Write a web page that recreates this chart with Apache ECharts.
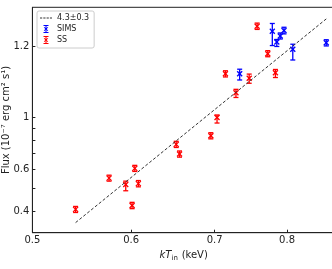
<!DOCTYPE html>
<html><head><meta charset="utf-8">
<script src="https://cdn.jsdelivr.net/npm/echarts@6/dist/echarts.min.js"></script>
<style>html,body{margin:0;padding:0;background:#fff}#c{width:332px;height:269px}</style>
</head><body><div id="c"></div>
<script>
// SS points: kT_in (keV), flux (1e-7), error low / high
const ssT  = [0.5415, 0.576, 0.594, 0.601, 0.604, 0.608, 0.652, 0.656, 0.695, 0.703, 0.714, 0.728, 0.746, 0.757, 0.772, 0.783];
const ssF  = [0.406, 0.551, 0.518, 0.422, 0.606, 0.522, 0.766, 0.697, 0.833, 0.995, 1.524, 1.267, 1.459, 2.423, 1.855, 1.541];
const ssLo = [0.394, 0.535, 0.487, 0.409, 0.588, 0.506, 0.743, 0.676, 0.808, 0.943, 1.478, 1.21, 1.39, 2.35, 1.80, 1.47];
const ssHi = [0.418, 0.567, 0.535, 0.435, 0.624, 0.538, 0.789, 0.718, 0.858, 1.02, 1.570, 1.31, 1.52, 2.50, 1.91, 1.59];
// SIMS points
const simsT  = [0.733, 0.7785, 0.785, 0.790, 0.7955, 0.8085, 0.860];
const simsF  = [1.526, 2.307, 2.078, 2.204, 2.326, 1.936, 2.063];
const simsLo = [1.435, 2.008, 1.99, 2.14, 2.25, 1.744, 2.00];
const simsHi = [1.594, 2.49, 2.13, 2.27, 2.40, 2.034, 2.125];
// fit line end points (slope 4.3 in log-log)
const fitT = [0.5415, 0.8605];
const fitF = [0.357, 2.61];
// ticks
const xTicks = [0.5, 0.6, 0.7, 0.8];
const xTickLabels = ['0.5', '0.6', '0.7', '0.8'];
const yTicks = [0.4, 0.5, 0.6, 0.7, 0.8, 0.9, 1, 2];
const yLabelVals = [0.4, 0.6, 1, 2];
const yTickLabels = ['0.4', '0.6', '1', '1.2'];

function pick(vals, labels) {
  return function (v) {
    for (let i = 0; i < vals.length; i++) {
      if (Math.abs(v - vals[i]) / vals[i] < 1e-6) return labels[i];
    }
    return '';
  };
}

function renderStar(color) {
  return function (params, api) {
    const p = api.coord([api.value(0), api.value(1)]);
    const lo = api.coord([api.value(0), api.value(2)]);
    const hi = api.coord([api.value(0), api.value(3)]);
    const w = 2.5, m = 2.5;
    const style = { stroke: color, lineWidth: 1.3, fill: null };
    return {
      type: 'group',
      children: [
        { type: 'line', shape: { x1: p[0], y1: hi[1], x2: p[0], y2: lo[1] }, style: style },
        { type: 'line', shape: { x1: p[0] - w, y1: hi[1], x2: p[0] + w, y2: hi[1] }, style: style },
        { type: 'line', shape: { x1: p[0] - w, y1: lo[1], x2: p[0] + w, y2: lo[1] }, style: style },
        { type: 'line', shape: { x1: p[0] - m, y1: p[1] - m, x2: p[0] + m, y2: p[1] + m }, style: style },
        { type: 'line', shape: { x1: p[0] - m, y1: p[1] + m, x2: p[0] + m, y2: p[1] - m }, style: style }
      ]
    };
  };
}

const starIcon = 'path://M0,0L0.01,0L0,0.01Z M12,8L11.99,8L12,7.99Z ' +
  'M3.5,0L8.5,0L8.5,1L3.5,1Z M3.5,7L8.5,7L8.5,8L3.5,8Z M5.5,0L6.5,0L6.5,8L5.5,8Z ' +
  'M3.8,2.6L4.4,2L8.2,5.4L7.6,6Z M4.4,6L3.8,5.4L7.6,2L8.2,2.6Z';
const dashIcon = 'path://M0,0L0.01,0L0,0.01Z M12,8L11.99,8L12,7.99Z ' +
  'M0,3.5L2.2,3.5L2.2,4.5L0,4.5Z M3.3,3.5L5.5,3.5L5.5,4.5L3.3,4.5Z ' +
  'M6.6,3.5L8.8,3.5L8.8,4.5L6.6,4.5Z M9.9,3.5L12,3.5L12,4.5L9.9,4.5Z';

const font = 'DejaVu Sans';
const dark = '#222';

const chart = echarts.init(document.getElementById('c'), null, { renderer: 'canvas' });
chart.setOption({
  animation: false,
  backgroundColor: '#fff',
  textStyle: { fontFamily: font },
  grid: {
    left: 32.4, right: -3, top: 7.3, bottom: 36.3,
    containLabel: false, outerBoundsMode: 'none',
    show: true, borderColor: dark, borderWidth: 1, backgroundColor: 'transparent'
  },
  legend: {
    left: 37, top: 11, orient: 'vertical',
    padding: [3, 5, 4, 3], itemGap: 3, itemWidth: 12, itemHeight: 8,
    borderColor: '#ccc', borderWidth: 1, borderRadius: 2,
    backgroundColor: 'rgba(255,255,255,0.8)',
    textStyle: { fontSize: 8, color: dark, fontFamily: font },
    data: [
      { name: '4.3±0.3', icon: dashIcon },
      { name: 'SIMS', icon: starIcon },
      { name: 'SS', icon: starIcon }
    ]
  },
  xAxis: {
    type: 'log', logBase: 10, min: 0.5, max: 0.874,
    name: '{i|kT}{s|in} {n|(keV)}', nameLocation: 'middle', nameGap: 17,
    nameMoveOverlap: false,
    nameTextStyle: {
      rich: {
        i: { fontSize: 10, fontStyle: 'italic', color: dark, fontFamily: font },
        s: { fontSize: 7, color: dark, fontFamily: font, verticalAlign: 'bottom', padding: [4, 0, 0, 0] },
        n: { fontSize: 10, color: dark, fontFamily: font }
      }
    },
    axisLine: { show: true, lineStyle: { color: dark, width: 1 } },
    axisTick: { show: true, inside: true, length: 3, customValues: xTicks, lineStyle: { color: dark } },
    axisLabel: { customValues: xTicks, formatter: pick(xTicks, xTickLabels), fontSize: 10, color: dark, margin: 3, fontFamily: font },
    splitLine: { show: false }, minorTick: { show: false }
  },
  yAxis: {
    type: 'log', logBase: 10, min: 0.3235, max: 2.916,
    name: 'Flux (10⁻⁷ erg cm² s¹)', nameLocation: 'middle', nameGap: 21, nameRotate: 90,
    nameMoveOverlap: false,
    nameTextStyle: { fontSize: 10, color: dark, fontFamily: font },
    axisLine: { show: true, lineStyle: { color: dark, width: 1 } },
    axisTick: { show: true, inside: true, length: 3, customValues: yTicks, lineStyle: { color: dark } },
    axisLabel: { customValues: yLabelVals, formatter: pick(yLabelVals, yTickLabels), fontSize: 10, color: dark, margin: 3, fontFamily: font },
    splitLine: { show: false }, minorTick: { show: false }
  },
  series: [
    {
      name: '4.3±0.3', type: 'line', symbol: 'none', silent: true,
      data: fitT.map((t, i) => [t, fitF[i]]),
      lineStyle: { color: '#333', width: 1, type: [3, 2] },
      itemStyle: { color: '#333' }
    },
    {
      name: 'SIMS', type: 'custom', renderItem: renderStar('#0000ff'),
      itemStyle: { color: '#0000ff' },
      encode: { x: 0, y: [1, 2, 3] },
      data: simsT.map((t, i) => [t, simsF[i], simsLo[i], simsHi[i]]),
      z: 3
    },
    {
      name: 'SS', type: 'custom', renderItem: renderStar('#ff0000'),
      itemStyle: { color: '#ff0000' },
      encode: { x: 0, y: [1, 2, 3] },
      data: ssT.map((t, i) => [t, ssF[i], ssLo[i], ssHi[i]]),
      z: 3
    }
  ]
});
</script>
</body></html>
